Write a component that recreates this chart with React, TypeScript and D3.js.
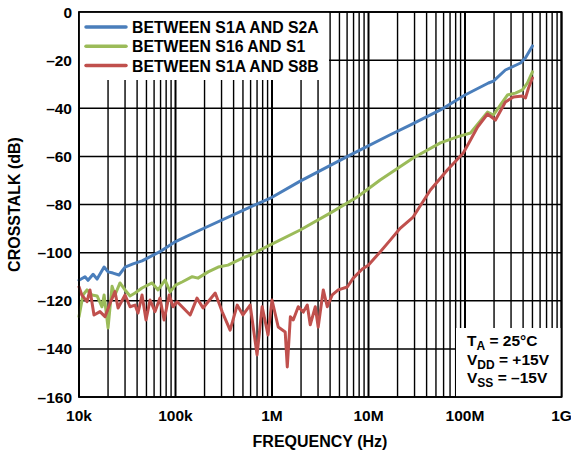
import React from "react";
import * as d3 from "d3";

const yTicks = [0, -20, -40, -60, -80, -100, -120, -140, -160];
const xTickValues = [1e4, 1e5, 1e6, 1e7, 1e8, 1e9];
const xTickLabels = ["10k", "100k", "1M", "10M", "100M", "1G"];

const seriesNames = ["BETWEEN S1A AND S2A", "BETWEEN S16 AND S1", "BETWEEN S1A AND S8B"];
const seriesColors = ["#4a7ebb", "#9bbb59", "#c0504d"];

const blueFreq = [1.0e4, 1.154e4, 1.24e4, 1.4e4, 1.54e4, 1.82e4, 2.0e4, 2.25e4, 2.6e4, 3.0e4, 3.63e4, 4.5e4, 6.9e4, 1.0e5, 1.8e5, 5.27e5, 1.0e6, 1.96e6, 6.5e6, 1.68e7, 2.7e7, 5.56e7, 1.0e8, 1.75e8, 1.97e8, 2.62e8, 3.76e8, 4.24e8, 5.0e8];
const blueDb = [-111.5, -110, -111.5, -109, -111, -106, -108, -108.5, -109.3, -106, -104.7, -103.4, -99.6, -95.4, -90.6, -82, -77, -70.3, -59.4, -51, -47, -40.7, -34.5, -29.5, -28.7, -24.1, -21.2, -19, -14.1];

const greenFreq = [1.0e4, 1.1e4, 1.21e4, 1.365e4, 1.54e4, 1.73e4, 1.82e4, 2.0e4, 2.2e4, 2.36e4, 2.66e4, 3.0e4, 3.38e4, 3.81e4, 4.5e4, 5.72e4, 6.6e4, 7.8e4, 8.8e4, 1.0e5, 1.17e5, 1.49e5, 1.71e5, 2.18e5, 2.77e5, 3.5e5, 5.0e5, 5.94e5, 9.6e5, 1.96e6, 4.0e6, 7.65e6, 1.32e7, 2.9e7, 5.56e7, 8.3e7, 1.14e8, 1.71e8, 1.97e8, 2.33e8, 2.75e8, 3.33e8, 3.94e8, 4.44e8, 5.0e8];
const greenDb = [-126.6, -117.6, -115.5, -117.6, -118, -122.5, -117.6, -131.3, -114, -117.6, -112.6, -115.5, -118, -116.8, -114.7, -112.6, -115.5, -111.4, -116.3, -113.5, -112.2, -110, -110.6, -108, -106, -105.2, -102.2, -101, -96.8, -90.6, -83.6, -76.9, -69.8, -60.7, -54.4, -51.9, -50.3, -41.6, -42.8, -38.6, -34.5, -33.7, -32.4, -29.5, -24.9];

const redFreq = [1.0e4, 1.07e4, 1.21e4, 1.3e4, 1.43e4, 1.65e4, 1.86e4, 2.1e4, 2.36e4, 2.54e4, 3.0e4, 3.38e4, 3.81e4, 4.09e4, 4.5e4, 4.95e4, 5.45e4, 6.14e4, 6.9e4, 7.62e4, 8.6e4, 9.45e4, 1.04e5, 1.17e5, 1.42e5, 1.67e5, 1.93e5, 2.58e5, 3.04e5, 3.68e5, 4.36e5, 5.0e5, 5.94e5, 7.0e5, 7.9e5, 9.1e5, 1.0e6, 1.16e6, 1.37e6, 1.44e6, 1.55e6, 1.66e6, 1.87e6, 2.11e6, 2.32e6, 2.49e6, 2.81e6, 3.01e6, 3.4e6, 3.74e6, 4.21e6, 4.86e6, 6.03e6, 6.95e6, 8.63e6, 9.95e6, 1.32e7, 1.68e7, 2.14e7, 2.9e7, 4.38e7, 6.56e7, 9.6e7, 1.14e8, 1.35e8, 1.71e8, 2.07e8, 2.62e8, 3.18e8, 3.94e8, 4.24e8, 4.55e8, 5.0e8];
const redDb = [-114.2, -117.6, -120.4, -115.5, -125.9, -124.5, -126.6, -121, -116.2, -123, -117.6, -122.5, -121.8, -125.1, -117.6, -128, -119.7, -124.5, -118.9, -128, -117.6, -122.5, -120.4, -122.5, -125.9, -118.9, -123, -116.8, -124.5, -132.2, -121.8, -125.9, -121.8, -142.5, -122.5, -134.2, -119.7, -130.9, -133, -147.5, -126.7, -128, -122.5, -124.7, -121.8, -130, -122.5, -130.9, -115.5, -122.5, -117.6, -115.5, -114.3, -110.6, -106.8, -105.2, -99.7, -94.8, -89.8, -85.2, -74, -65.7, -58.6, -53.2, -47.8, -42.4, -44.9, -37.4, -35.3, -34.9, -35.7, -31.6, -27.4];

const FONT = "'Liberation Sans', Arial, Helvetica, sans-serif";

export default function App() {
  const W = 571, H = 454;
  const left = 79, right = 561.5, top = 12, bottom = 397;
  const x = d3.scaleLog().domain([1e4, 1e9]).range([left, right]);
  const y = d3.scaleLinear().domain([-160, 0]).range([bottom, top]);

  const minor: number[] = [];
  for (let e = 4; e < 9; e++) {
    for (let k = 2; k <= 9; k++) minor.push(k * Math.pow(10, e));
  }

  const series = [
    { f: blueFreq, v: blueDb },
    { f: greenFreq, v: greenDb },
    { f: redFreq, v: redDb },
  ];
  const line = d3
    .line<[number, number]>()
    .x((d) => x(d[0]))
    .y((d) => y(d[1]));

  return (
    <svg
      width={W}
      height={H}
      style={{ position: "absolute", left: 0, top: 0, background: "#fff" }}
      fontFamily={FONT}
      fontWeight="bold"
    >
      <rect x={0} y={0} width={W} height={H} fill="#fff" />
      {yTicks.map((t) => (
        <line key={"h" + t} x1={left} x2={right} y1={y(t)} y2={y(t)} stroke="#000" strokeWidth={1.5} />
      ))}
      {minor.map((f) => (
        <line key={"m" + f} x1={x(f)} x2={x(f)} y1={top} y2={bottom} stroke="#000" strokeWidth={1.4} />
      ))}
      {xTickValues.map((f) => (
        <line key={"v" + f} x1={x(f)} x2={x(f)} y1={top} y2={bottom} stroke="#000" strokeWidth={2} />
      ))}
      <rect x={left} y={top} width={329 - left} height={80 - top} fill="#fff" />
      <rect x={456} y={328} width={right - 456} height={bottom - 328} fill="#fff" />
      {series.map((s, i) => (
        <path
          key={"s" + i}
          d={line(s.f.map((f, j) => [f, s.v[j]] as [number, number])) || ""}
          fill="none"
          stroke={seriesColors[i]}
          strokeWidth={3}
          strokeLinejoin="round"
          strokeLinecap="round"
        />
      ))}
      <rect x={left} y={top} width={right - left} height={bottom - top} fill="none" stroke="#000" strokeWidth={1.8} />
      {seriesNames.map((n, i) => (
        <g key={"l" + i}>
          <line x1={86} x2={126} y1={27 + i * 19.3} y2={27 + i * 19.3} stroke={seriesColors[i]} strokeWidth={3.5} strokeLinecap="round" />
          <text x={132} y={33 + i * 19.3} fontSize={15.8} fill="#000">{n}</text>
        </g>
      ))}
      <text x={467} y={346} fontSize={15.5} fill="#000">
        T<tspan fontSize={12} dy={4}>A</tspan><tspan dy={-4}> = 25°C</tspan>
      </text>
      <text x={467} y={364.5} fontSize={15.5} fill="#000">
        V<tspan fontSize={12} dy={4}>DD</tspan><tspan dy={-4}> = +15V</tspan>
      </text>
      <text x={467} y={383} fontSize={15.5} fill="#000">
        V<tspan fontSize={12} dy={4}>SS</tspan><tspan dy={-4}> = –15V</tspan>
      </text>
      {yTicks.map((t) => (
        <text key={"yt" + t} x={72} y={y(t)} dy="0.36em" textAnchor="end" fontSize={15.5} fill="#000">
          {t === 0 ? "0" : "–" + Math.abs(t)}
        </text>
      ))}
      {xTickValues.map((f, i) => (
        <text key={"xt" + f} x={x(f)} y={421} textAnchor="middle" fontSize={15.5} fill="#000">
          {xTickLabels[i]}
        </text>
      ))}
      <text x={320} y={447} textAnchor="middle" fontSize={16} fill="#000">FREQUENCY (Hz)</text>
      <text transform={`translate(20,${(top + bottom) / 2}) rotate(-90)`} textAnchor="middle" fontSize={16} fill="#000">
        CROSSTALK (dB)
      </text>
    </svg>
  );
}
